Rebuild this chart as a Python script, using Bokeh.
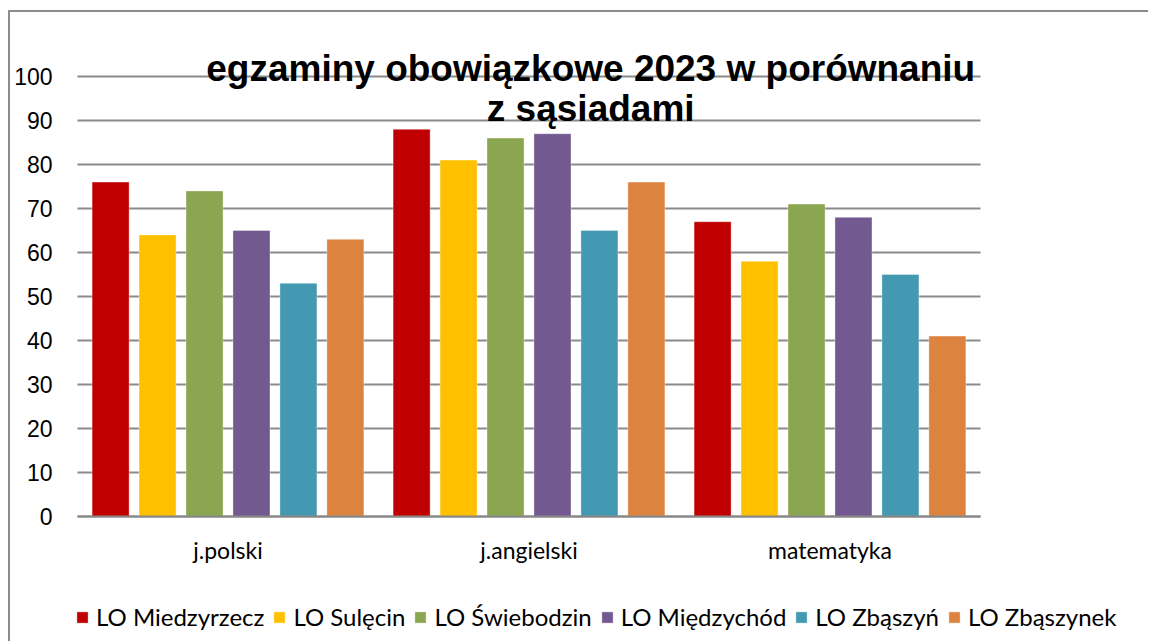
from bokeh.plotting import figure
from bokeh.models import ColumnDataSource, Range1d, FixedTicker, Label
from bokeh.embed import file_html
from bokeh.resources import INLINE

# ---- data ----
categories = ["j.polski", "j.angielski", "matematyka"]
schools = ["LO Miedzyrzecz", "LO Sulęcin", "LO Świebodzin", "LO Międzychód", "LO Zbąszyń", "LO Zbąszynek"]
miedzyrzecz = [76, 88, 67]
sulecin = [64, 81, 58]
swiebodzin = [74, 86, 71]
miedzychod = [65, 87, 68]
zbaszyn = [53, 65, 55]
zbaszynek = [63, 76, 41]
series = [miedzyrzecz, sulecin, swiebodzin, miedzychod, zbaszyn, zbaszynek]
colors = ["#C00000", "#FFC000", "#8BA650", "#725990", "#4299B1", "#DC843F"]
title_lines = ["egzaminy obowiązkowe 2023 w porównaniu", "z sąsiadami"]
y_ticks = list(range(0, 101, 10))

cat_pos = list(range(len(categories)))          # category centres on a numeric scale
data = {"pos": cat_pos}
keys = ["s%d" % i for i in range(len(series))]
for k, s in zip(keys, series):
    data[k] = s
source = ColumnDataSource(data)

# ---- geometry (pixels) ----
W, H = 1140, 680
left = 65                 # frame starts 2 px left of the first grid line (legend alignment)
px_per_cat = 301.0        # one category = 301 px
px_per_unit = 4.4         # 10 points = 44 px
frame_h = 624             # frame from canvas top (title area) to below the legend
zero_from_top = 504       # zero line position inside the frame
x_start = -0.5 - 2 / px_per_cat
x_end = x_start + (W - left) / px_per_cat
y_top = zero_from_top / px_per_unit
y_bottom = -(frame_h - zero_from_top) / px_per_unit

p = figure(x_range=Range1d(x_start, x_end), y_range=Range1d(y_bottom, y_top),
           width=W, height=H, output_backend="svg", toolbar_location=None,
           min_border_left=left, min_border_right=0, min_border_top=0,
           min_border_bottom=H - frame_h)
p.outline_line_color = None
p.background_fill_color = "white"
p.border_fill_color = "white"
p.styles = {"border-left": "2px solid #8c8c8c", "border-top": "2px solid #8c8c8c",
            "margin-top": "10px", "margin-left": "8px"}

# grid lines only across the category area
grid_ok = hasattr(p.ygrid[0], "cross_bounds")
p.xgrid.grid_line_color = None
if grid_ok:
    p.ygrid.ticker = FixedTicker(ticks=y_ticks)
    p.ygrid.grid_line_color = "#8a8a8a"
    p.ygrid.grid_line_width = 2
    p.ygrid[0].cross_bounds = (-0.5, len(categories) - 0.5)
else:
    p.ygrid.grid_line_color = None
    p.segment(x0=[-0.5] * len(y_ticks), x1=[len(categories) - 0.5] * len(y_ticks),
              y0=y_ticks, y1=y_ticks, line_color="#8a8a8a", line_width=2)

pitch = 0.156
bw = 0.123
for i, (k, name, c) in enumerate(zip(keys, schools, colors)):
    xs = [c0 + (i - 2.5) * pitch for c0 in cat_pos]
    p.vbar(x=xs, top=series[i], width=bw, fill_color=c, line_color="white",
           line_alpha=0.35, line_width=1, legend_label=name)

# y axis
p.yaxis.ticker = FixedTicker(ticks=y_ticks)
p.yaxis.axis_line_color = None
p.yaxis.major_tick_line_color = None
p.yaxis.minor_tick_line_color = None
p.yaxis.major_tick_out = 0
p.yaxis.major_label_standoff = 23
p.yaxis.major_label_text_font = "Liberation Sans"
p.yaxis.major_label_text_font_size = "23px"
p.yaxis.major_label_text_color = "#000000"

# x axis sitting on the zero line
xa = p.xaxis[0]
xa.fixed_location = 0
xa.bounds = (-0.5, len(categories) - 0.5)
xa.ticker = FixedTicker(ticks=cat_pos)
xa.major_label_overrides = {i: c for i, c in zip(cat_pos, categories)}
xa.axis_line_color = "#878787"
xa.axis_line_width = 2
xa.major_tick_line_color = None
xa.minor_tick_line_color = None
xa.major_tick_out = 0
xa.major_tick_in = 0
xa.major_label_standoff = 19
xa.major_label_text_font = "Lato"
xa.major_label_text_font_size = "23px"
xa.major_label_text_color = "#000000"

# title (inside the frame, above the bars)
for txt, yv in zip(title_lines, [101.9, 92.7]):
    p.add_layout(Label(x=1.205, y=yv, text=txt, text_align="center", text_baseline="alphabetic",
                       text_font="Liberation Sans", text_font_style="bold",
                       text_font_size="37px", text_color="#000000"))

# legend at the bottom of the frame
lg = p.legend[0]
lg.orientation = "horizontal"
lg.location = (0, 5)
lg.border_line_color = None
lg.background_fill_alpha = 0
lg.padding = 0
lg.margin = 0
lg.spacing = 8
lg.glyph_width = 14
lg.glyph_height = 14
lg.label_standoff = 7
lg.label_text_font = "Lato"
lg.label_text_font_size = "24px"
lg.label_text_color = "#000000"

html = file_html(p, INLINE)
html = html.replace("</head>", "<style>html, body { overflow: hidden; }</style></head>", 1)
open("out.html", "w").write(html)
